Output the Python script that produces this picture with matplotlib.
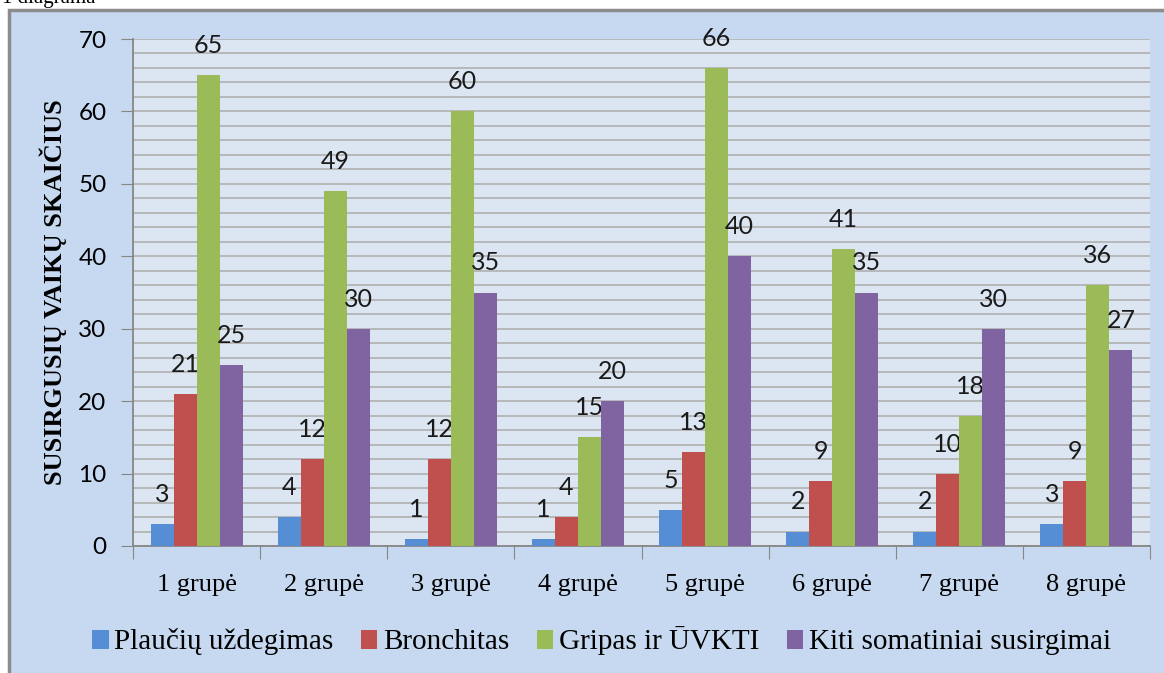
import numpy as np
import matplotlib
matplotlib.use('Agg')
import matplotlib.pyplot as plt
from matplotlib.patches import Rectangle

groups = ['1 grupė', '2 grupė', '3 grupė', '4 grupė', '5 grupė', '6 grupė', '7 grupė', '8 grupė']
series_names = ['Plaučių uždegimas', 'Bronchitas', 'Gripas ir ŪVKTI', 'Kiti somatiniai susirgimai']
plauciu = [3, 4, 1, 1, 5, 2, 2, 3]
bronchitas = [21, 12, 12, 4, 13, 9, 10, 9]
gripas = [65, 49, 60, 15, 66, 41, 18, 36]
kiti = [25, 30, 35, 20, 40, 35, 30, 27]
colors = ['#558ED5', '#C0504D', '#9BBB59', '#8064A2']

fig = plt.figure(figsize=(11.64, 6.73), dpi=100)
fig.patch.set_facecolor('white')

# outer chart frame
frame = Rectangle((9/1164, -0.01), 1.01, (673-10)/673 + 0.01, transform=fig.transFigure,
                  facecolor='#C6D9F1', edgecolor='#8C8C8C', linewidth=2.5, zorder=-5)
fig.add_artist(frame)
fig.text(0.002, 1.002, '1 diagrama', family='Liberation Serif', fontsize=15, va='center', ha='left')

ax = fig.add_axes([133/1164, 1-546/673, (1150-133)/1164, (546-39)/673])
ax.set_facecolor('#DCE6F2')

x = np.arange(len(groups))
w = 0.181
all_series = [plauciu, bronchitas, gripas, kiti]
for i, vals in enumerate(all_series):
    pos = x + (i - 1.5) * w
    ax.bar(pos, vals, width=w, color=colors[i], label=series_names[i], zorder=3)
    for p, v in zip(pos, vals):
        ax.annotate(str(v), (p, v), xytext=(0, 13), textcoords='offset points',
                    ha='center', va='bottom', fontsize=18, family='Lato', color='#1a1a1a')

ax.set_xlim(-0.5, len(groups) - 0.5)
ax.set_ylim(0, 70)
ax.set_yticks(range(0, 71, 10))
ax.set_yticks(range(0, 71, 2), minor=True)
ax.grid(axis='y', which='both', color='#B4B4B4', linewidth=1.3, zorder=0)
ax.tick_params(axis='y', which='major', length=9, color='#868686', labelsize=17.5, pad=10)
ax.tick_params(axis='y', which='minor', length=0)
for lab in ax.get_yticklabels():
    lab.set_family('Lato')

ax.set_xticks(np.arange(-0.5, len(groups), 1.0))
ax.set_xticklabels([])
ax.set_xticks(x, minor=True)
ax.set_xticklabels(groups, minor=True, family='Liberation Serif', fontsize=19)
ax.tick_params(axis='x', which='major', length=9, color='#868686')
ax.tick_params(axis='x', which='minor', length=0, pad=20)

for s in ['top', 'right']:
    ax.spines[s].set_visible(False)
for s in ['left', 'bottom']:
    ax.spines[s].set_color('#868686')
    ax.spines[s].set_linewidth(1.3)

ax.set_ylabel('SUSIRGUSIŲ VAIKŲ SKAIČIUS', family='Liberation Serif', fontweight='bold', fontsize=19, labelpad=8)

fig.legend(loc='center', bbox_to_anchor=(0.517, 1-641/673), ncol=4, frameon=False,
           prop={'family': 'Liberation Serif', 'size': 21}, handlelength=0.55, handleheight=0.65,
           handletextpad=0.2, columnspacing=0.95)

fig.savefig('out.png', dpi=100)
